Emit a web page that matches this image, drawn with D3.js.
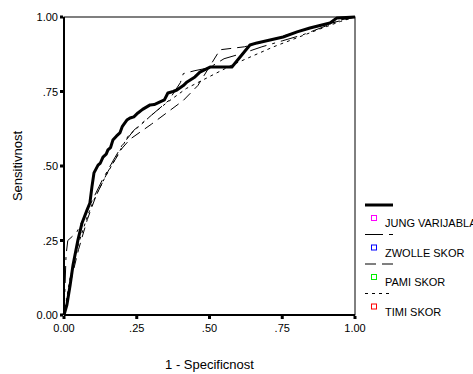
<!DOCTYPE html>
<html>
<head>
<meta charset="utf-8">
<script src="https://cdn.jsdelivr.net/npm/d3@7"></script>
<style>
  body { margin: 0; background: #fff; overflow: hidden; }
  text { font-family: "Liberation Sans", Arial, sans-serif; fill: #000; }
</style>
</head>
<body>
<svg id="chart" width="473" height="374"></svg>
<script>
// ROC curves: [1 - specificity, sensitivity]
const jungVar = [
  [0, 0], [0.01, 0.034], [0.021, 0.10], [0.031, 0.168], [0.048, 0.252], [0.062, 0.309],
  [0.079, 0.352], [0.089, 0.376], [0.096, 0.43], [0.103, 0.477], [0.117, 0.503],
  [0.125, 0.51], [0.134, 0.53], [0.145, 0.54], [0.151, 0.554], [0.16, 0.562],
  [0.168, 0.587], [0.18, 0.6], [0.192, 0.611], [0.2, 0.632], [0.216, 0.654],
  [0.227, 0.661], [0.24, 0.665], [0.254, 0.678], [0.27, 0.69], [0.296, 0.705],
  [0.31, 0.706], [0.33, 0.715], [0.345, 0.722], [0.357, 0.745], [0.375, 0.75],
  [0.388, 0.755], [0.41, 0.77], [0.423, 0.782], [0.45, 0.799], [0.467, 0.815],
  [0.502, 0.832], [0.577, 0.832], [0.639, 0.906], [0.663, 0.913], [0.708, 0.923],
  [0.753, 0.933], [0.801, 0.95], [0.845, 0.963], [0.914, 0.98], [0.938, 0.997], [1, 1]
];
const zwolleSkor = [
  [0, 0], [0.003, 0.08], [0.007, 0.2], [0.013, 0.25], [0.03, 0.265], [0.045, 0.28],
  [0.06, 0.31], [0.08, 0.35], [0.1, 0.39], [0.13, 0.45], [0.17, 0.52], [0.2, 0.57],
  [0.24, 0.62], [0.3, 0.67], [0.36, 0.72], [0.4, 0.78], [0.41, 0.81], [0.45, 0.82],
  [0.5, 0.83], [0.55, 0.86], [0.62, 0.88], [0.68, 0.9], [0.75, 0.92], [0.82, 0.94],
  [0.9, 0.97], [0.95, 0.99], [1, 1]
];
const pamiSkor = [
  [0, 0], [0.02, 0.1], [0.05, 0.22], [0.08, 0.32], [0.11, 0.4], [0.15, 0.48],
  [0.2, 0.56], [0.227, 0.59], [0.3, 0.64], [0.41, 0.72], [0.46, 0.77], [0.536, 0.89],
  [0.62, 0.9], [0.7, 0.92], [0.8, 0.95], [0.9, 0.975], [1, 1]
];
const timiSkor = [
  [0, 0], [0.02, 0.12], [0.05, 0.24], [0.08, 0.33], [0.1, 0.38], [0.14, 0.46],
  [0.18, 0.53], [0.22, 0.6], [0.3, 0.67], [0.35, 0.71], [0.42, 0.76], [0.5, 0.8],
  [0.58, 0.84], [0.65, 0.87], [0.72, 0.9], [0.8, 0.93], [0.88, 0.96], [0.95, 0.985], [1, 1]
];

const tickValues = [0, 0.25, 0.5, 0.75, 1];
const tickLabels = ["0.00", ".25", ".50", ".75", "1.00"];

const seriesInfo = [
  { name: "JUNG VARIJABLA", data: jungVar, width: 3, dash: null, keyDash: null, color: "#ff00ff" },
  { name: "ZWOLLE SKOR", data: zwolleSkor, width: 1, dash: "17,6,3,6", keyDash: "18,6,4,6", color: "#0000ff" },
  { name: "PAMI SKOR", data: pamiSkor, width: 1, dash: "10,6", keyDash: "11,6", color: "#00ee00" },
  { name: "TIMI SKOR", data: timiSkor, width: 1, dash: "3,4", keyDash: "3,4", color: "#ff0000" }
];

const svg = d3.select("#chart");
const margin = { left: 64, top: 17 };
const innerWidth = 291, innerHeight = 298;

const x = d3.scaleLinear().domain([0, 1]).range([margin.left, margin.left + innerWidth]);
const y = d3.scaleLinear().domain([0, 1]).range([margin.top + innerHeight, margin.top]);

// frame
svg.append("rect")
  .attr("x", x(0)).attr("y", y(1))
  .attr("width", innerWidth).attr("height", innerHeight)
  .attr("fill", "none").attr("stroke", "#000").attr("stroke-width", 1);

// thick left & bottom axis lines
svg.append("line").attr("x1", x(0)).attr("x2", x(0)).attr("y1", y(0)).attr("y2", y(1))
  .attr("stroke", "#000").attr("stroke-width", 2);
svg.append("line").attr("x1", x(0)).attr("x2", x(1)).attr("y1", y(0)).attr("y2", y(0))
  .attr("stroke", "#000").attr("stroke-width", 2);

// tick marks (small squares) and labels
svg.selectAll(".xtick").data(tickValues).join("rect")
  .attr("x", d => x(d) - 1.5).attr("y", y(0) + 1).attr("width", 3).attr("height", 3)
  .attr("fill", "#000");
svg.selectAll(".ytick").data(tickValues).join("rect")
  .attr("x", x(0) - 4).attr("y", d => y(d) - 1.5).attr("width", 3).attr("height", 3)
  .attr("fill", "#000");

svg.selectAll(".xlab").data(tickValues).join("text")
  .attr("x", d => x(d)).attr("y", y(0) + 17)
  .attr("text-anchor", "middle").attr("font-size", 11)
  .text((d, i) => tickLabels[i]);
svg.selectAll(".ylab").data(tickValues).join("text")
  .attr("x", x(0) - 6).attr("y", d => y(d) + 4)
  .attr("text-anchor", "end").attr("font-size", 11)
  .text((d, i) => tickLabels[i]);

// axis titles
svg.append("text")
  .attr("x", x(0.5)).attr("y", 369)
  .attr("text-anchor", "middle").attr("font-size", 13)
  .text("1 - Specificnost");
svg.append("text")
  .attr("transform", `translate(22,${y(0.5)}) rotate(-90)`)
  .attr("text-anchor", "middle").attr("font-size", 13)
  .text("Sensitivnost");

// curves
const line = d3.line().x(d => x(d[0])).y(d => y(d[1]));
svg.append("g").selectAll("path")
  .data(seriesInfo.slice().reverse())
  .join("path")
    .attr("d", d => line(d.data))
    .attr("fill", "none")
    .attr("stroke", "#000")
    .attr("stroke-width", d => d.width)
    .attr("stroke-dasharray", d => d.dash)
    .attr("stroke-linejoin", "round");

// legend
const legend = svg.append("g").attr("transform", "translate(365,205)");
const items = legend.selectAll("g").data(seriesInfo).join("g")
  .attr("transform", (d, i) => `translate(0,${i * 29.5})`);

items.append("line")
  .attr("x1", 0).attr("x2", 28).attr("y1", 0).attr("y2", 0)
  .attr("stroke", "#000")
  .attr("stroke-width", d => d.width)
  .attr("stroke-dasharray", d => d.keyDash);

items.append("rect")
  .attr("x", 6.5).attr("y", 10.5).attr("width", 5).attr("height", 5)
  .attr("fill", "none").attr("stroke", d => d.color).attr("stroke-width", 1);

items.append("text")
  .attr("x", 20).attr("y", 22)
  .attr("font-size", 11)
  .text(d => d.name);
</script>
</body>
</html>
